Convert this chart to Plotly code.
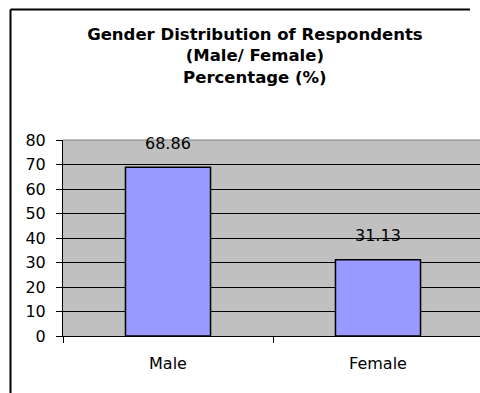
import plotly.graph_objects as go

categories = ["Male", "Female"]
percentages = [68.86, 31.13]
y_ticks = [0, 10, 20, 30, 40, 50, 60, 70, 80]
title_lines = ["Gender Distribution of Respondents", "(Male/ Female)", "Percentage (%)"]

FONT = "DejaVu Sans, Liberation Sans, Arial, sans-serif"

fig = go.Figure()
fig.add_trace(go.Bar(
    x=categories,
    y=percentages,
    width=0.405,
    marker=dict(color="#9999FF", line=dict(color="black", width=1.5)),
    hoverinfo="skip",
    showlegend=False,
))

for c, v in zip(categories, percentages):
    fig.add_annotation(
        x=c, y=v, text=f"{v:.2f}", showarrow=False,
        yanchor="middle", yshift=24,
        font=dict(family=FONT, size=16, color="black"),
    )

# plot area in pixels: x 63..480, y 140..336
def px_x(p):
    return (p - 63) / 417

def px_y(p):
    return (336 - p) / 196

fig.update_layout(
    width=480, height=393,
    margin=dict(l=63, r=0, t=140, b=57, pad=0),
    plot_bgcolor="#C0C0C0",
    paper_bgcolor="white",
    title=dict(
        text="<br>".join(f"<b>{t}</b>" for t in title_lines),
        x=0.531, xanchor="center", xref="container",
        y=1 - 40 / 393, yanchor="middle", yref="container",
        font=dict(family=FONT, size=16.5, color="black"),
    ),
    xaxis=dict(
        type="category",
        range=[-0.5, 1.4857],
        showline=True, linecolor="black", linewidth=1,
        ticks="outside", tickson="boundaries", ticklen=6, tickcolor="black", tickwidth=1,
        showgrid=False, zeroline=False,
        ticklabelstandoff=13,
        tickfont=dict(family=FONT, size=16, color="black"),
        fixedrange=True,
    ),
    yaxis=dict(
        range=[0, 80],
        tickvals=y_ticks,
        showline=True, linecolor="black", linewidth=1,
        ticks="outside", ticklen=6, tickcolor="black", tickwidth=1,
        showgrid=True, gridcolor="black", gridwidth=1,
        zeroline=False,
        ticklabelstandoff=7,
        tickfont=dict(family=FONT, size=16, color="black"),
        fixedrange=True,
    ),
    shapes=[
        # gray top border of plot area
        dict(type="line", xref="paper", yref="paper", x0=0, x1=1, y0=1, y1=1,
             line=dict(color="#808080", width=1)),
        # outer chart frame: left edge
        dict(type="line", xref="paper", yref="paper",
             x0=px_x(10.5), x1=px_x(10.5), y0=px_y(400), y1=px_y(9.5),
             line=dict(color="black", width=2), layer="above"),
        # outer chart frame: top edge
        dict(type="line", xref="paper", yref="paper",
             x0=px_x(10.5), x1=px_x(470), y0=px_y(9.5), y1=px_y(9.5),
             line=dict(color="black", width=2), layer="above"),
    ],
)

fig.write_html("out.html")
